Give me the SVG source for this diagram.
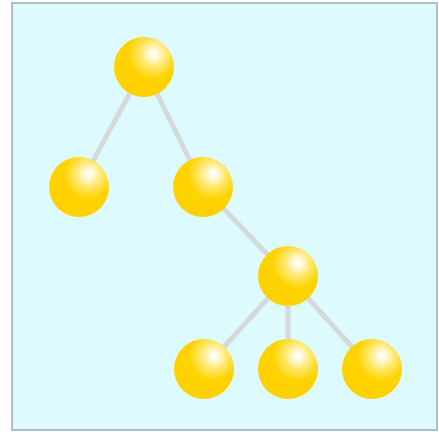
<svg xmlns="http://www.w3.org/2000/svg" width="439" height="432" viewBox="0 0 439 432">
<style>
.edge{stroke:#d6d9da;stroke-width:5;stroke-linecap:round;fill:none}
.ball{fill:url(#g)}
</style>
<defs>
<radialGradient id="g" cx="0.64" cy="0.3" r="0.75" fx="0.67" fy="0.28">
<stop offset="0" stop-color="#ffffff"/>
<stop offset="0.08" stop-color="#fffbe6"/>
<stop offset="0.3" stop-color="#ffe766"/>
<stop offset="0.55" stop-color="#ffd300"/>
<stop offset="1" stop-color="#ffd000"/>
</radialGradient>
</defs>
<rect x="12" y="3" width="425" height="427" fill="#ddfaff" stroke="#a8c2c6" stroke-width="2"/>
<g id="connectors">
<line class="edge" x1="144" y1="67" x2="79" y2="187"/>
<line class="edge" x1="144" y1="67" x2="203" y2="187"/>
<line class="edge" x1="203" y1="187" x2="288" y2="276"/>
<line class="edge" x1="288" y1="276" x2="204" y2="369"/>
<line class="edge" x1="288" y1="276" x2="288" y2="369"/>
<line class="edge" x1="288" y1="276" x2="372" y2="369"/>
</g>
<g id="n1"><circle class="ball" cx="144" cy="67" r="30"/></g>
<g id="n2"><circle class="ball" cx="79" cy="187" r="30"/></g>
<g id="n3"><circle class="ball" cx="203" cy="187" r="30"/></g>
<g id="n4"><circle class="ball" cx="288" cy="276" r="30"/></g>
<g id="n5"><circle class="ball" cx="204" cy="369" r="30"/></g>
<g id="n6"><circle class="ball" cx="288" cy="369" r="30"/></g>
<g id="n7"><circle class="ball" cx="372" cy="369" r="30"/></g>
</svg>
